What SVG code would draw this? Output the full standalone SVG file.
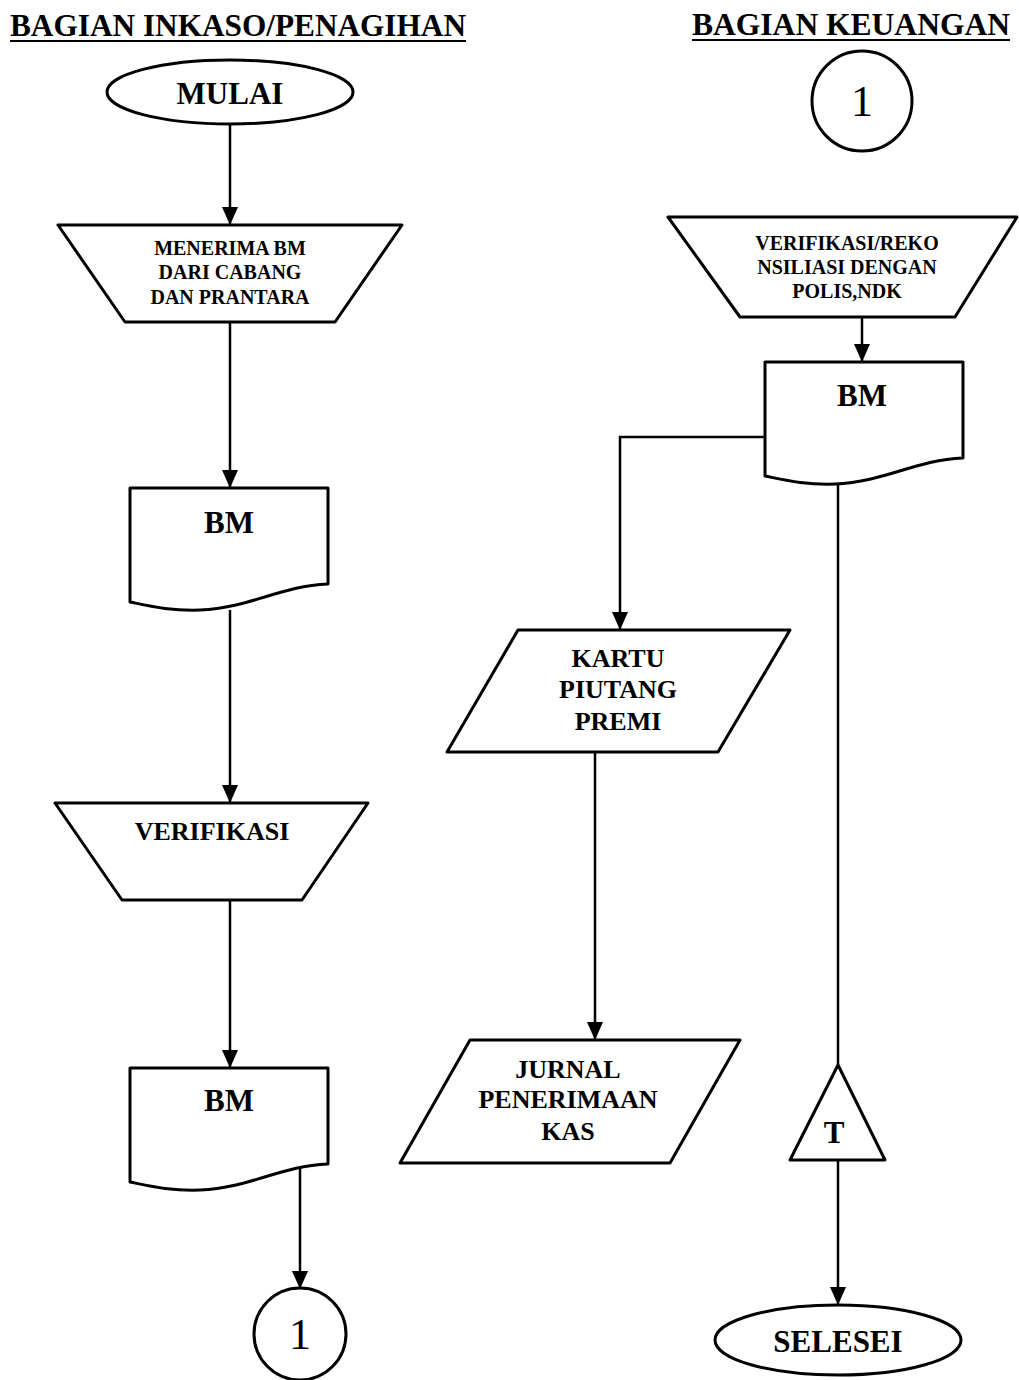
<svg xmlns="http://www.w3.org/2000/svg" width="1019" height="1380" viewBox="0 0 1019 1380">
<style>
.s{fill:#fff;stroke:#000;stroke-width:3;stroke-linejoin:round}
.c{fill:none;stroke:#000;stroke-width:2.5}
.t{font-family:"Liberation Serif","Times New Roman",serif;fill:#000;text-anchor:middle;font-weight:bold}
.h{font-family:"Liberation Serif","Times New Roman",serif;fill:#000;font-size:31px;font-weight:bold}
.sm{font-size:20px}
.md{font-size:26px}
.lg{font-size:31px}
.num{font-size:44px;font-weight:normal}
</style>
<defs>
<marker id="a" markerUnits="userSpaceOnUse" markerWidth="18" markerHeight="16" viewBox="0 0 18 16" refX="17" refY="8" orient="auto">
<path d="M0,0 L18,8 L0,16 Z" fill="#000"/>
</marker>
<path id="doc" d="M0,0 H198 V96 C150,98 120,120 70,122 C40,123 20,118 0,114 Z"/>
</defs>

<g id="headers">
<text class="h" x="10" y="36" textLength="456" lengthAdjust="spacingAndGlyphs">BAGIAN INKASO/PENAGIHAN</text>
<line x1="10" y1="41" x2="466" y2="41" stroke="#000" stroke-width="2"/>
<text class="h" x="692" y="35" textLength="318" lengthAdjust="spacingAndGlyphs">BAGIAN KEUANGAN</text>
<line x1="692" y1="40" x2="1010" y2="40" stroke="#000" stroke-width="2"/>
</g>

<g id="connectors">
<line class="c" x1="230" y1="125" x2="230" y2="224" marker-end="url(#a)"/>
<line class="c" x1="230" y1="322" x2="230" y2="487" marker-end="url(#a)"/>
<line class="c" x1="230" y1="610" x2="230" y2="802" marker-end="url(#a)"/>
<line class="c" x1="230" y1="900" x2="230" y2="1067" marker-end="url(#a)"/>
<line class="c" x1="300" y1="1164" x2="300" y2="1288" marker-end="url(#a)"/>
<line class="c" x1="862" y1="317" x2="862" y2="361" marker-end="url(#a)"/>
<polyline class="c" points="765,437 620,437 620,629" marker-end="url(#a)"/>
<line class="c" x1="595" y1="752" x2="595" y2="1039" marker-end="url(#a)"/>
<line class="c" x1="838" y1="482" x2="838" y2="1065"/>
<line class="c" x1="838" y1="1160" x2="838" y2="1304" marker-end="url(#a)"/>
</g>

<g id="mulai">
<ellipse class="s" cx="230" cy="92" rx="123" ry="32"/>
<text class="t lg" x="230" y="104">MULAI</text>
</g>

<g id="menerima">
<polygon class="s" points="58,225 402,225 335,322 125,322"/>
<text class="t sm" x="230" y="255">MENERIMA BM</text>
<text class="t sm" x="230" y="279">DARI CABANG</text>
<text class="t sm" x="230" y="304">DAN PRANTARA</text>
</g>

<g id="bm1">
<use href="#doc" class="s" x="130" y="488"/>
<text class="t lg" x="229" y="533">BM</text>
</g>

<g id="verifikasi">
<polygon class="s" points="55,803 368,803 302,900 122,900"/>
<text class="t md" x="212" y="840">VERIFIKASI</text>
</g>

<g id="bm2">
<use href="#doc" class="s" x="130" y="1068"/>
<text class="t lg" x="229" y="1111">BM</text>
</g>

<g id="conn1-left">
<circle class="s" cx="300" cy="1334" r="46"/>
<text class="t num" x="300" y="1349">1</text>
</g>

<g id="conn1-right">
<circle class="s" cx="862" cy="101" r="50"/>
<text class="t num" x="862" y="116">1</text>
</g>

<g id="rekonsiliasi">
<polygon class="s" points="668,217 1017,217 955,317 740,317"/>
<text class="t sm" x="847" y="250">VERIFIKASI/REKO</text>
<text class="t sm" x="847" y="274">NSILIASI DENGAN</text>
<text class="t sm" x="847" y="298">POLIS,NDK</text>
</g>

<g id="bm3">
<use href="#doc" class="s" x="765" y="362"/>
<text class="t lg" x="862" y="406">BM</text>
</g>

<g id="kartu">
<polygon class="s" points="518,630 790,630 718,752 447,752"/>
<text class="t md" x="618" y="667">KARTU</text>
<text class="t md" x="618" y="698">PIUTANG</text>
<text class="t md" x="618" y="730">PREMI</text>
</g>

<g id="jurnal">
<polygon class="s" points="470,1040 740,1040 670,1163 400,1163"/>
<text class="t md" x="568" y="1078">JURNAL</text>
<text class="t md" x="568" y="1108">PENERIMAAN</text>
<text class="t md" x="568" y="1140">KAS</text>
</g>

<g id="arsip">
<polygon class="s" points="838,1065 885,1160 790,1160"/>
<text class="t lg" x="834" y="1143">T</text>
</g>

<g id="selesei">
<ellipse class="s" cx="838" cy="1340" rx="123" ry="35"/>
<text class="t lg" x="838" y="1352">SELESEI</text>
</g>
</svg>
